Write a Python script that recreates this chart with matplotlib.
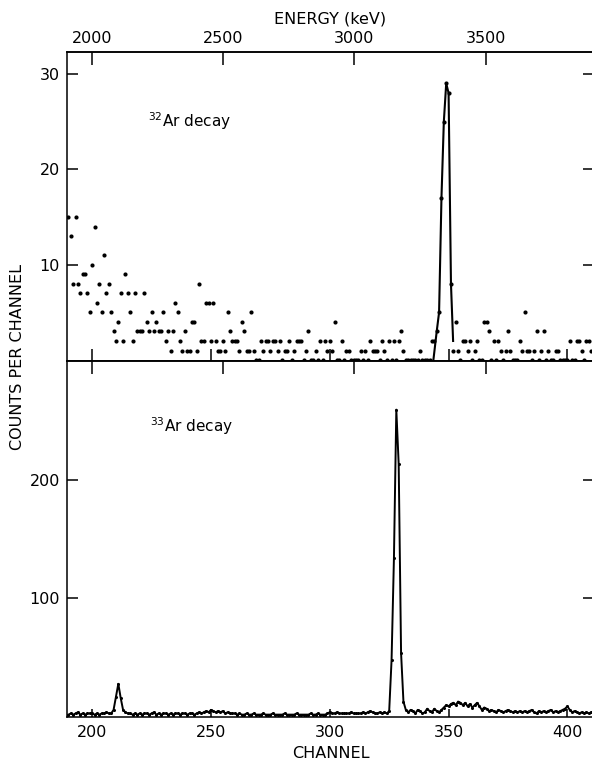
"""
Ar-32 / Ar-33 beta-delayed proton spectra
"""

import matplotlib
matplotlib.use("Agg")
import matplotlib.pyplot as plt
import numpy as np

# channels shown on both panels
first_channel = 190
channel_ticks = [200, 250, 300, 350, 400]
energy_ticks = [2000, 2500, 3000, 3500]

# 32Ar decay, counts per channel (channels 190..410)
ar32_counts = [
    15, 13, 8, 15, 8, 7, 9, 9, 7, 5,
    10, 14, 6, 8, 5, 11, 7, 8, 5, 3,
    2, 4, 7, 2, 9, 7, 5, 2, 7, 3,
    3, 3, 7, 4, 3, 5, 3, 4, 3, 3,
    5, 2, 3, 1, 3, 6, 5, 2, 1, 3,
    1, 1, 4, 4, 1, 8, 2, 2, 6, 6,
    2, 6, 2, 1, 1, 2, 1, 5, 3, 2,
    2, 2, 1, 4, 3, 1, 1, 5, 1, 0,
    0, 2, 1, 2, 2, 1, 2, 2, 1, 2,
    0, 1, 1, 2, 0, 1, 2, 2, 2, 0,
    1, 3, 0, 0, 1, 0, 2, 0, 2, 1,
    2, 1, 4, 0, 0, 2, 0, 1, 1, 0,
    0, 0, 0, 1, 0, 1, 0, 2, 1, 1,
    1, 0, 2, 1, 0, 2, 0, 2, 0, 2,
    3, 1, 0, 0, 0, 0, 0, 0, 1, 0,
    0, 0, 0, 2, 2, 3, 5, 17, 25, 29,
    28, 8, 1, 4, 1, 0, 2, 2, 1, 2,
    0, 1, 2, 0, 0, 4, 4, 3, 0, 2,
    0, 2, 1, 0, 1, 3, 1, 0, 0, 0,
    2, 1, 5, 1, 1, 0, 1, 3, 0, 1,
    3, 0, 1, 0, 0, 1, 1, 0, 0, 0,
    0, 2, 0, 0, 2, 2, 1, 0, 2, 2,
    1,
]

# line drawn through the 32Ar peak
ar32_peak_ch = [343.6, 345, 346, 347, 348, 349, 350, 351, 351.9]
ar32_peak_counts = [0, 3, 5, 17, 25, 29, 28, 8, 2]

# 33Ar decay, counts per channel (channels 190..410)
ar33_counts = [
    2, 3, 2, 3, 4, 2, 3, 2, 3, 3,
    3, 2, 3, 2, 3, 3, 4, 3, 3, 6,
    17, 28, 16, 6, 4, 3, 3, 2, 3, 2,
    3, 2, 3, 3, 2, 3, 4, 2, 3, 2,
    3, 3, 2, 3, 2, 3, 3, 2, 3, 3,
    2, 3, 3, 2, 3, 4, 3, 4, 5, 4,
    6, 5, 4, 5, 4, 5, 3, 4, 3, 3,
    3, 2, 3, 2, 2, 3, 2, 2, 3, 2,
    2, 2, 3, 2, 2, 2, 3, 2, 2, 2,
    2, 3, 2, 2, 2, 2, 3, 2, 2, 2,
    2, 2, 3, 2, 2, 3, 2, 2, 2, 3,
    4, 3, 3, 4, 3, 3, 3, 3, 3, 4,
    3, 3, 3, 3, 4, 3, 4, 5, 4, 3,
    3, 4, 3, 4, 3, 5, 48, 134, 259, 213,
    54, 13, 6, 4, 6, 5, 3, 6, 5, 3,
    4, 7, 5, 4, 7, 5, 4, 6, 8, 10,
    9, 11, 12, 10, 13, 12, 10, 12, 9, 11,
    8, 10, 12, 9, 6, 8, 7, 5, 6, 5,
    4, 6, 5, 4, 5, 6, 5, 4, 5, 4,
    5, 4, 5, 4, 5, 6, 4, 3, 5, 4,
    5, 4, 5, 6, 4, 5, 4, 5, 6, 7,
    9, 6, 4, 5, 4, 3, 4, 3, 4, 3,
    4,
]

channels = np.arange(first_channel, first_channel + len(ar32_counts))


def ch_to_kev(ch):
    return 2002 + 9.04 * (np.asarray(ch) - 200)


def kev_to_ch(e):
    return 200 + (np.asarray(e) - 2002) / 9.04


plt.rcParams['font.family'] = 'DejaVu Sans'
plt.rcParams['axes.linewidth'] = 1.1

fig = plt.figure(figsize=(5.92, 7.61), dpi=100)
W, H = 592.0, 761.0
left, right = 67 / W, 594 / W
ax1 = fig.add_axes([left, (H - 361) / H, right - left, 309 / H])
ax2 = fig.add_axes([left, (H - 717) / H, right - left, 356 / H])

for ax in (ax1, ax2):
    ax.set_xlim(189.4, 411.2)
    ax.spines['right'].set_visible(False)
    ax.set_xticks(channel_ticks)
    ax.yaxis.set_ticks_position('both')
    ax.tick_params(axis='both', direction='in', length=8, width=1.1,
                   labelsize=11.5, pad=5)
    ax.tick_params(axis='y', right=True, labelright=False)

# top panel: 32Ar
ax1.plot(channels, ar32_counts, 'o', color='black', ms=3.0, mec='none')
ax1.plot(ar32_peak_ch, ar32_peak_counts, '-', color='black', lw=1.5)
ax1.set_ylim(-0.1, 32.3)
ax1.set_yticks([10, 20, 30])
ax1.tick_params(axis='x', labelbottom=False, length=9)
ax1.text(0.153, 0.757, r'$^{32}$Ar decay', transform=ax1.transAxes,
         fontsize=11)

top = ax1.secondary_xaxis('top', functions=(ch_to_kev, kev_to_ch))
top.set_xticks(energy_ticks)
top.tick_params(direction='in', length=9, width=1.1, labelsize=11.5, pad=4)
top.set_xlabel('ENERGY (keV)', fontsize=11.5, labelpad=6)

# bottom panel: 33Ar
ax2.plot(channels, ar33_counts, '-o', color='black', lw=1.4, ms=2.2,
         mec='none')
ax2.set_ylim(0, 300)
ax2.set_yticks([100, 200])
ax2.tick_params(axis='x', length=6, pad=6)
ax2.set_xlabel('CHANNEL', fontsize=11.5, labelpad=4)
ax2.text(0.157, 0.80, r'$^{33}$Ar decay', transform=ax2.transAxes,
         fontsize=11)

mid = ax2.secondary_xaxis('top', functions=(ch_to_kev, kev_to_ch))
mid.set_xticks(energy_ticks)
mid.tick_params(direction='in', length=9, width=1.1, labeltop=False)

fig.text(18 / W, 1 - 357 / H, 'COUNTS PER CHANNEL', rotation=90,
         ha='center', va='center', fontsize=11.5)

fig.savefig('out.png', dpi=100)
